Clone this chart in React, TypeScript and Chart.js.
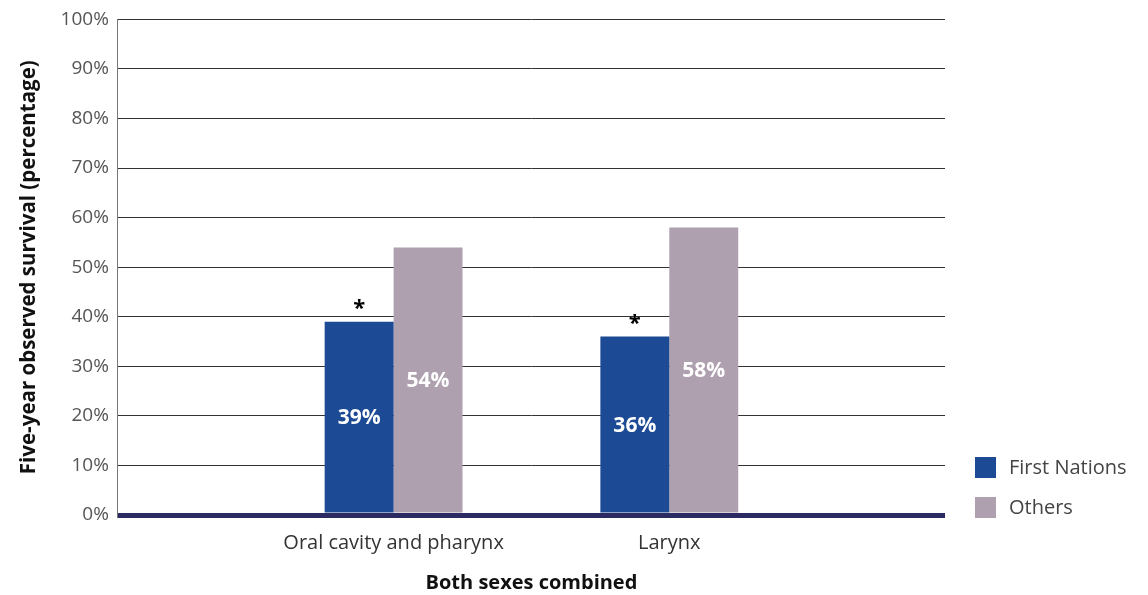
import React, { useEffect, useRef } from "react";
import { Chart, registerables } from "chart.js";

Chart.register(...registerables);

const categories = ["", "Oral cavity and pharynx", "Larynx", ""];
const firstNations = [null, 39, 36, null];
const others = [null, 54, 58, null];
const significant = [false, true, true, false];
const seriesNames = ["First Nations", "Others"];
const seriesColors = ["#1c4a94", "#aea0af"];
const yTicks = [0, 10, 20, 30, 40, 50, 60, 70, 80, 90, 100];
const yTitle = "Five-year observed survival (percentage)";
const xTitle = "Both sexes combined";

const FONT = "'Open Sans', 'Noto Sans', sans-serif";

const overlayPlugin = {
  id: "overlay",
  afterDatasetsDraw(chart: any) {
    const ctx = chart.ctx;
    ctx.save();
    chart.data.datasets.forEach((ds: any, di: number) => {
      const meta = chart.getDatasetMeta(di);
      meta.data.forEach((bar: any, i: number) => {
        const v = ds.data[i];
        if (v == null) return;
        const base = chart.scales.y.getPixelForValue(0);
        const midY = (bar.y + base) / 2;
        ctx.fillStyle = "#ffffff";
        ctx.font = `bold 21px ${FONT}`;
        ctx.textAlign = "center";
        ctx.textBaseline = "middle";
        ctx.fillText(`${v}%`, bar.x, midY);
        if (di === 0 && significant[i]) {
          ctx.fillStyle = "#000000";
          ctx.font = `bold 22px ${FONT}`;
          ctx.textBaseline = "alphabetic";
          ctx.fillText("*", bar.x, bar.y - 7);
        }
      });
    });
    const area = chart.chartArea;
    const lx = area.right + 30;
    const rows = [area.bottom - 47, area.bottom - 7];
    seriesNames.forEach((name, i) => {
      ctx.fillStyle = seriesColors[i];
      ctx.fillRect(lx, rows[i] - 11, 21, 21);
      ctx.fillStyle = "#444444";
      ctx.font = `20px ${FONT}`;
      ctx.textAlign = "left";
      ctx.textBaseline = "middle";
      ctx.fillText(name, lx + 34, rows[i]);
    });
    ctx.restore();
  },
};

export default function App() {
  const ref = useRef<HTMLCanvasElement>(null);
  useEffect(() => {
    document.body.style.overflow = "hidden";
    if (!ref.current) return;
    const chart = new Chart(ref.current, {
      type: "bar",
      data: {
        labels: categories,
        datasets: [
          { label: seriesNames[0], data: firstNations, backgroundColor: seriesColors[0] },
          { label: seriesNames[1], data: others, backgroundColor: seriesColors[1] },
        ],
      },
      options: {
        responsive: false,
        animation: false,
        layout: { padding: { top: 0, right: 195, bottom: 0, left: 9 } },
        datasets: { bar: { categoryPercentage: 0.5, barPercentage: 1 } } as any,
        plugins: { legend: { display: false }, tooltip: { enabled: false } },
        scales: {
          x: {
            offset: false,
            grid: { display: false, drawTicks: false },
            border: { display: false },
            ticks: { color: "#333", font: { family: FONT, size: 20 }, padding: 16, maxRotation: 0, autoSkip: false },
            title: { display: true, text: xTitle, color: "#111", font: { family: FONT, size: 20, weight: "bold" }, padding: { top: 0, bottom: 0 } },
          },
          y: {
            min: 0,
            max: 100,
            afterBuildTicks: (axis: any) => {
              axis.ticks = yTicks.map((v) => ({ value: v }));
            },
            grid: {
              drawTicks: true,
              tickLength: 9,
              tickColor: "rgba(0,0,0,0)",
              color: (c: any) => (c.tick && c.tick.value === 0 ? "#2b2a63" : "#333333"),
              lineWidth: (c: any) => (c.tick && c.tick.value === 0 ? 5 : 1),
            },
            border: { display: true, color: "#777777", width: 1 },
            ticks: { color: "#555", font: { family: FONT, size: 19 }, padding: 0, callback: (v: any) => `${v}%` },
            title: { display: true, text: yTitle, color: "#111", font: { family: FONT, size: 20.5, weight: "bold" }, padding: { top: 0, bottom: 19 } },
          },
        },
      },
      plugins: [overlayPlugin],
    });
    return () => chart.destroy();
  }, []);
  return <canvas ref={ref} width={1132} height={587} style={{ display: "block" }} />;
}
